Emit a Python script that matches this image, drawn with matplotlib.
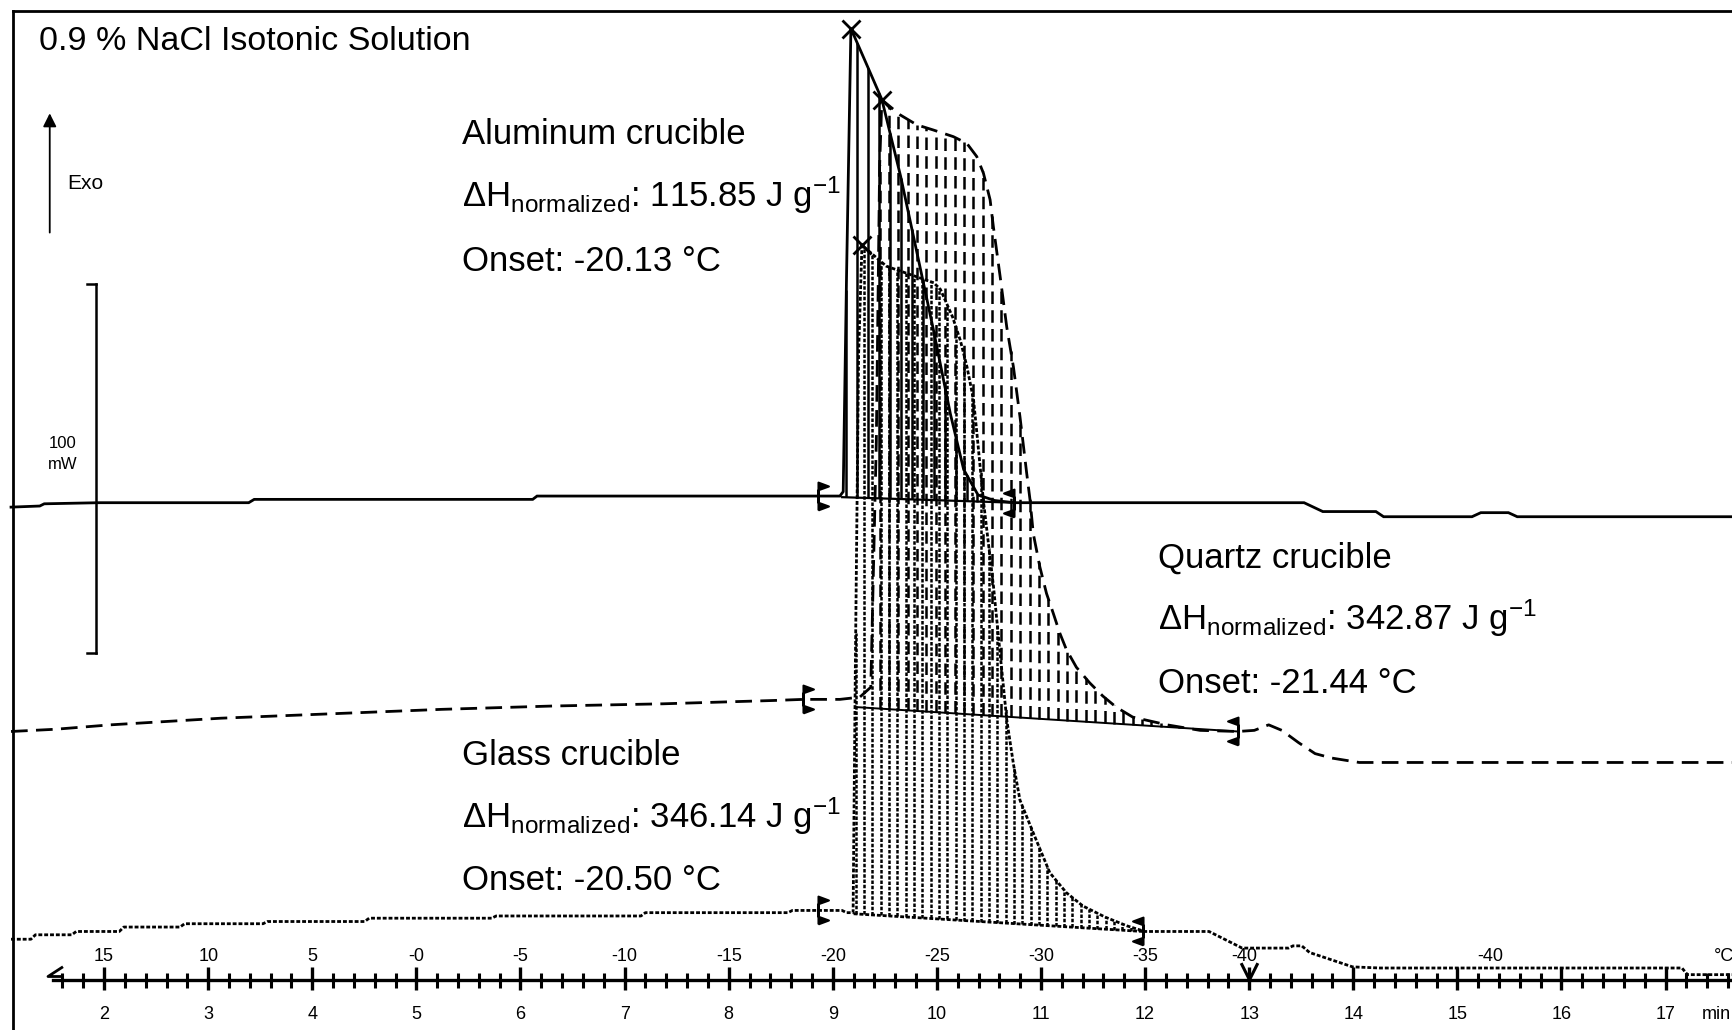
import numpy as np
import matplotlib
matplotlib.use('Agg')
import matplotlib.pyplot as plt
from matplotlib.path import Path

plt.rcParams['font.family'] = ['Liberation Sans', 'DejaVu Sans']
plt.rcParams['mathtext.fontset'] = 'custom'
plt.rcParams['mathtext.rm'] = 'Liberation Sans'
plt.rcParams['mathtext.it'] = 'Liberation Sans:italic'
plt.rcParams['mathtext.bf'] = 'Liberation Sans:bold'
plt.rcParams['mathtext.default'] = 'regular'

# ---------------- data (time in min, heat flow in mW) ----------------
al_time = [1.106, 1.382, 1.425, 1.955, 3.389, 3.442, 6.117, 6.159, 9.068, 9.100,
           9.132, 9.174, 9.323, 9.471, 9.652, 9.811, 9.970, 10.130, 10.257, 10.395,
           10.554, 10.745, 13.527, 13.707, 14.217, 14.291, 15.140, 15.225, 15.490, 15.575,
           17.645]
al_hf = [-2.7, -2.4, -1.8, -1.5, -1.5, -0.6, -0.6, 0.3, 0.3, 1.5,
         59.9, 127.0, 117.4, 107.8, 86.9, 65.9, 44.9, 22.5, 7.5, 0.6,
         -0.9, -1.5, -1.5, -3.9, -3.9, -5.3, -5.3, -4.2, -4.2, -5.3,
         -5.3]

q_time = [1.106, 1.531, 2.062, 3.123, 4.185, 5.246, 6.308, 7.369, 8.431, 8.718,
          9.068, 9.259, 9.365, 9.418, 9.450, 9.471, 9.647, 9.807, 9.966, 10.158,
          10.287, 10.383, 10.447, 10.511, 10.542, 10.607, 10.671, 10.735, 10.798, 10.862,
          10.894, 10.926, 10.989, 11.053, 11.117, 11.180, 11.244, 11.340, 11.467, 11.594,
          11.722, 11.881, 12.210, 12.529, 12.890, 13.049, 13.187, 13.314, 13.473, 13.633,
          13.792, 14.057, 17.645]
q_hf = [-8.7, -8.1, -6.9, -5.1, -3.9, -2.7, -1.8, -1.2, -0.3, 0.0,
        0.0, 0.6, 3.3, 69.8, 144.7, 162.5, 158.4, 155.7, 154.3, 152.5,
        150.7, 147.1, 142.6, 135.4, 128.2, 114.7, 100.9, 90.1, 76.6, 61.4,
        54.2, 44.9, 35.9, 28.7, 23.4, 18.0, 13.5, 8.7, 4.5, 0.9,
        -2.1, -4.8, -6.9, -8.4, -8.7, -8.4, -6.9, -8.4, -11.7, -14.7,
        -15.9, -17.1, -17.1]

g_time = [1.106, 1.297, 1.340, 1.690, 1.732, 2.146, 2.189, 2.730, 2.773, 3.527,
          3.569, 4.503, 4.546, 5.724, 5.766, 7.157, 7.200, 8.569, 8.612, 9.089,
          9.132, 9.195, 9.217, 9.248, 9.280, 9.514, 9.970, 10.034, 10.151, 10.225,
          10.289, 10.352, 10.384, 10.448, 10.544, 10.607, 10.671, 10.735, 10.798, 10.926,
          11.085, 11.244, 11.403, 11.616, 11.828, 11.998, 12.614, 12.932, 13.378, 13.420,
          13.505, 13.580, 13.994, 14.259, 17.157, 17.210, 17.645]
g_hf = [-7.5, -7.5, -6.3, -6.3, -5.4, -5.4, -4.2, -4.2, -3.3, -3.3,
        -2.7, -2.7, -1.8, -1.8, -1.2, -1.2, -0.3, -0.3, 0.3, 0.3,
        -0.3, -0.3, 67.4, 151.2, 180.6, 174.9, 170.4, 168.6, 161.1, 154.8,
        147.6, 138.7, 129.7, 111.0, 88.0, 70.0, 52.0, 40.0, 30.2, 21.3,
        10.5, 5.1, 1.5, -1.5, -3.9, -5.4, -5.4, -9.9, -9.9, -9.3,
        -9.3, -11.1, -15.0, -15.3, -15.3, -17.1, -17.1]

# integration baselines
al_base_time = [9.09, 10.745]
al_base_hf = [0.0, -1.5]
q_base_time = [9.23, 12.89]
q_base_hf = [-2.1, -8.7]
g_base_time = [9.20, 11.98]
g_base_hf = [-0.6, -5.4]

# onset / end markers (min)
onset_times = [8.856, 8.718, 8.856]
end_times = [10.745, 12.89, 11.98]

crucibles = ['Aluminum crucible', 'Quartz crucible', 'Glass crucible']
dh_values = [115.85, 342.87, 346.14]
onset_temps = [-20.13, -21.44, -20.50]

time_ticks = list(range(2, 18))
temp_label_times = [2, 3, 4, 5, 6, 7, 8, 9, 10, 11, 12, 12.95, 15.32]
temp_labels = ['15', '10', '5', '-0', '-5', '-10', '-15', '-20', '-25', '-30', '-35', '-40', '-40']

# ---------------- layout ----------------
PX_T = 1.0 / 104.1      # min per pixel
PX_Y = 1.0 / 3.69       # mW per pixel
offsets = [144.4, 89.6, 32.1]

fig = plt.figure(figsize=(17.33, 10.30), dpi=100)
ax = fig.add_axes([0, 0, 1, 1])
ax.set_xlim(1.0, 1.0 + 1733 * PX_T)
ax.set_ylim(0, 1030 * PX_Y)
ax.axis('off')

LW = 2.0
styles = ['-', (0, (6, 3)), (0, (1.4, 0.7))]
hatch_styles = ['-', (0, (5, 2.5)), (0, (1.4, 0.7))]
base_styles = ['-', '-', (0, (1.4, 0.7))]
base_lw = [1.6, 1.4, 2.0]
hatch_ranges = [(9.13, 10.40, 0.105), (9.45, 12.86, 0.09), (9.22, 11.96, 0.08)]

series = [(al_time, al_hf, al_base_time, al_base_hf),
          (q_time, q_hf, q_base_time, q_base_hf),
          (g_time, g_hf, g_base_time, g_base_hf)]

# hatch lines (integration area)
for (t, hf, bt, bh), off, hs, (a, b, s) in zip(series, offsets, hatch_styles, hatch_ranges):
    th = np.arange(a, b, s)
    top = np.interp(th, t, hf) + off
    bot = np.interp(th, bt, bh) + off
    m = top > bot
    ax.vlines(th[m], bot[m], top[m], colors='k', linestyles=hs, linewidth=1.8)

# curves and baselines
for (t, hf, bt, bh), off, ls, bls, blw in zip(series, offsets, styles, base_styles, base_lw):
    y = np.array(hf) + off
    ax.plot(t, y, color='k', lw=LW, linestyle=ls, solid_joinstyle='miter')
    ax.plot(bt, np.array(bh) + off, color='k', lw=blw, linestyle=bls)
    k = int(np.argmax(hf))
    ax.plot(t[k], y[k], marker='x', color='k', ms=13, mew=2.0)

# onset / end markers
onset_marker = Path([(0, -1), (0, 1), (0.75, 0.72), (0, 0.45), (0, -0.45), (0.75, -0.72), (0, -1)])
end_marker = Path([(0, -1), (0, 1), (-0.75, 0.72), (0, 0.45), (0, -0.45), (-0.75, -0.72), (0, -1)])
for (t, hf, bt, bh), off, to, te in zip(series, offsets, onset_times, end_times):
    ax.plot(to, np.interp(to, t, hf) + off, marker=onset_marker, ms=20, color='k',
            mfc='k', mew=1.5)
    ax.plot(te, np.interp(te, t, hf) + off, marker=end_marker, ms=20, color='k',
            mfc='k', mew=1.5)

# ---------------- time / temperature axis ----------------
Y_AX = 13.52
ax.plot([1.51, ax.get_xlim()[1]], [Y_AX, Y_AX], color='k', lw=2.4)
ax.vlines(time_ticks, Y_AX - 10 * PX_Y, Y_AX + 12.7 * PX_Y, colors='k', lw=2.4)
minor = [m for m in np.arange(1.6, 17.65, 0.2) if abs(m - round(m)) > 0.05]
ax.vlines(minor, Y_AX - 8 * PX_Y, Y_AX + 7 * PX_Y, colors='k', lw=2.2)
ax.plot(1.53, Y_AX + 1.2, marker=Path([(1, 1.3), (-1, 0), (1, 0)]), ms=14, color='k',
        mfc='none', mew=2.0)
ax.plot(13, Y_AX + 2.4, marker=Path([(-1, 1), (0, -1), (1, 1)], [Path.MOVETO, Path.LINETO, Path.LINETO]),
        ms=12, color='k', mfc='none', mew=2.2)
for tt in time_ticks:
    ax.text(tt, 4.23, str(tt), ha='center', va='center', fontsize=13)
ax.text(17.49, 4.23, 'min', ha='center', va='center', fontsize=13)
for tt, lab in zip(temp_label_times, temp_labels):
    ax.text(tt, 19.8, lab, ha='center', va='center', fontsize=13)
ax.text(17.56, 19.8, '°C', ha='center', va='center', fontsize=13)

# ---------------- scale bar, exo arrow, frame ----------------
xs = 1.924
ax.plot([xs, xs], [102.1, 202.1], color='k', lw=1.8)
ax.plot([xs - 8 * PX_T * 1.1, xs], [202.1, 202.1], color='k', lw=1.8)
ax.plot([xs - 8 * PX_T * 1.1, xs], [102.1, 102.1], color='k', lw=1.8)
ax.text(0.0363, 0.5698, '100', transform=ax.transAxes, ha='center', va='center', fontsize=12)
ax.text(0.0363, 0.5494, 'mW', transform=ax.transAxes, ha='center', va='center', fontsize=12)

ax.annotate('', xy=(0.0287, 0.8927), xytext=(0.0287, 0.7715), xycoords='axes fraction',
            arrowprops=dict(arrowstyle='-|>', lw=1.3, color='k', mutation_scale=20))
ax.text(0.0491, 0.8219, 'Exo', transform=ax.transAxes, ha='center', va='center', fontsize=15)

ax.plot([0.00765, 0.00765], [0, 0.9893], transform=ax.transAxes, color='k', lw=2.0, clip_on=False)
ax.plot([0.00765, 1.0], [0.9893, 0.9893], transform=ax.transAxes, color='k', lw=2.0, clip_on=False)

# ---------------- texts ----------------
ax.text(0.0223, 0.9517, '0.9 % NaCl Isotonic Solution', transform=ax.transAxes,
        ha='left', va='baseline', fontsize=24.5)

text_pos = [(0.2665, (0.8605, 0.7994, 0.7372)),
            (0.6682, (0.4486, 0.3885, 0.3273)),
            (0.2665, (0.2576, 0.1964, 0.1364))]
for name, dh, on, (x0, ys) in zip(crucibles, dh_values, onset_temps, text_pos):
    ax.text(x0, ys[0], name, transform=ax.transAxes, ha='left', va='baseline', fontsize=25)
    ax.text(x0, ys[1], 'ΔH$_{normalized}$: %.2f J g$^{-1}$' % dh, transform=ax.transAxes,
            ha='left', va='baseline', fontsize=25)
    ax.text(x0, ys[2], 'Onset: %.2f °C' % on, transform=ax.transAxes,
            ha='left', va='baseline', fontsize=25)

fig.savefig('out.png', dpi=100)
